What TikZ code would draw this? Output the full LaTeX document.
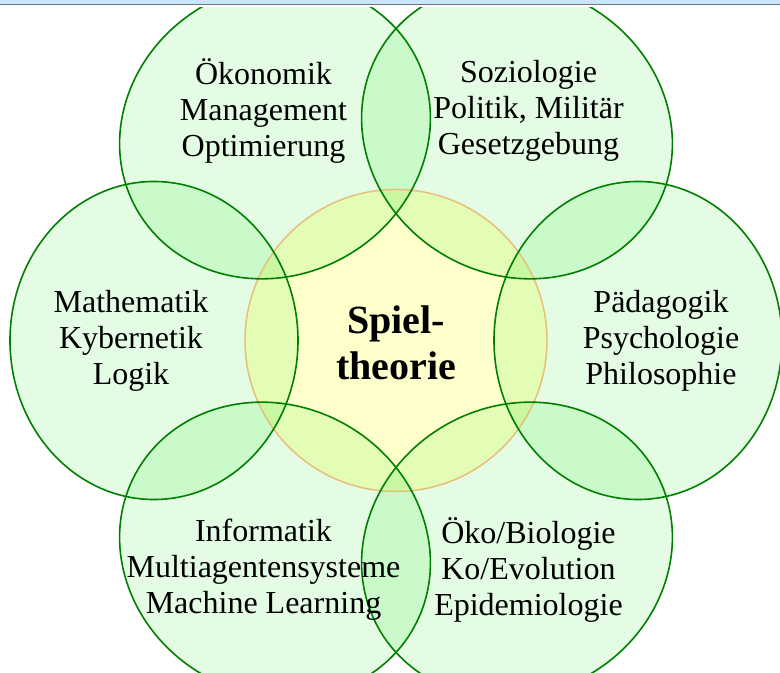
\documentclass[tikz,border=0pt]{standalone}
\usepackage{fontspec}
\setmainfont{Liberation Serif}
\definecolor{ringline}{RGB}{0,128,0}
\definecolor{ringfill}{RGB}{0,225,0}
\definecolor{corefill}{RGB}{255,255,0}
\definecolor{coreline}{RGB}{230,190,120}
\definecolor{barblue}{RGB}{200,232,250}
\definecolor{bargray}{RGB}{110,118,128}
\begin{document}
\begin{tikzpicture}[x=0.75pt,y=0.75pt,
  field/.style={align=center,font=\fontsize{24}{27}\selectfont,inner sep=0pt},
  core/.style={align=center,font=\bfseries\fontsize{30}{34.5}\selectfont,inner sep=0pt},
  ringarea/.style={ringfill,fill opacity=0.11},
  ringedge/.style={ringline,line width=1.2pt},
  ringshape/.style={x radius=144,y radius=159}]
\useasboundingbox (-396,-332.5) rectangle (384,340.5);
% window strip along the top edge
\fill[barblue] (-396,340.5) rectangle (384,336.4);
\fill[bargray] (-396,336.4) rectangle (384,335);
\begin{scope}
  \clip (-396,-332.5) rectangle (384,333.3);
  % central disc
  \fill[corefill,fill opacity=0.2] (0,0) circle [radius=151];
  % six surrounding fields
  \foreach \a in {0,60,...,300}
    \fill[ringarea,rotate=\a] (242,0) ellipse [ringshape];
  \draw[coreline,line width=1.1pt] (0,0) circle [radius=151];
  \foreach \a in {0,60,...,300}
    \draw[ringedge,rotate=\a] (242,0) ellipse [ringshape];
\end{scope}
\node[core] (spiel) at (0,-2) {Spiel-\\theorie};
\node[field] (oek) at (120:265) {Ökonomik\\Management\\Optimierung};
\node[field] (soz) at (60:265) {Soziologie\\Politik, Militär\\Gesetzgebung};
\node[field] (mat) at (180:265) {Mathematik\\Kybernetik\\Logik};
\node[field] (paed) at (0:265) {Pädagogik\\Psychologie\\Philosophie};
\node[field] (inf) at (240:265) {Informatik\\Multiagentensysteme\\Machine Learning};
\node[field] (bio) at (300:265) {Öko/Biologie\\Ko/Evolution\\Epidemiologie};
\end{tikzpicture}
\end{document}
